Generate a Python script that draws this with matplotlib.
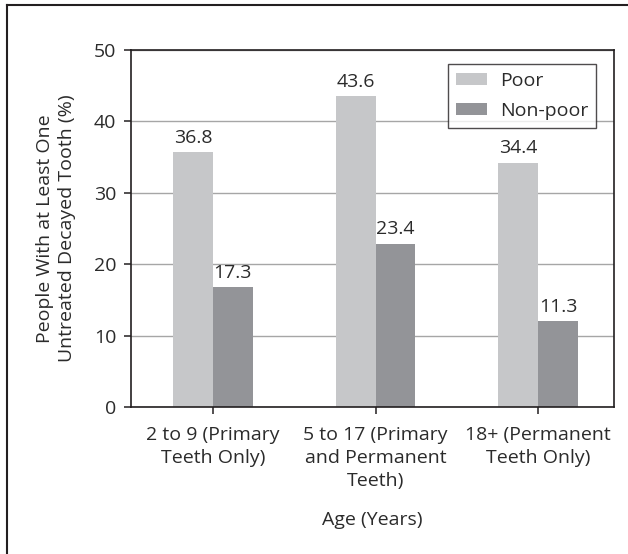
import numpy as np
import matplotlib
matplotlib.use('Agg')
import matplotlib.pyplot as plt
from matplotlib.lines import Line2D

plt.rcParams['font.family'] = ['Open Sans', 'DejaVu Sans']

# data (bar heights as drawn, labels as printed)
groups = ['2 to 9 (Primary\nTeeth Only)',
          '5 to 17 (Primary\nand Permanent\nTeeth)',
          '18+ (Permanent\nTeeth Only)']
poor = [35.7, 43.5, 34.2]
nonpoor = [16.8, 22.9, 12.0]
poor_labels = ['36.8', '43.6', '34.4']
nonpoor_labels = ['17.3', '23.4', '11.3']

txt = '#2b2b2b'
fs = 14

fig = plt.figure(figsize=(6.28, 5.54), dpi=100)
ax = fig.add_axes([0.2086, 0.2653, 0.7691, 0.6444])

x = np.arange(len(groups))
w = 0.245
b1 = ax.bar(x - w/2, poor, w, color='#c6c7c9', label='Poor', zorder=2)
b2 = ax.bar(x + w/2, nonpoor, w, color='#939498', label='Non-poor', zorder=2)

for bars, labs in [(b1, poor_labels), (b2, nonpoor_labels)]:
    for r, s in zip(bars, labs):
        ax.annotate(s, (r.get_x() + r.get_width()/2, r.get_height()),
                    xytext=(0, 4), textcoords='offset points',
                    ha='center', va='bottom', fontsize=fs, color=txt)

ax.set_xlim(-0.503, 2.466)
ax.set_ylim(0, 50)
ax.set_yticks([0, 10, 20, 30, 40, 50])
ax.set_xticks(x)
ax.set_xticklabels(groups, linespacing=1.36)
ax.yaxis.grid(True, color='#a6a6a6', linewidth=1.0, zorder=0)
ax.set_axisbelow(True)

for sp in ax.spines.values():
    sp.set_color('#231f20')
    sp.set_linewidth(1.2)

ax.tick_params(axis='both', direction='out', length=5, width=1.1,
               color='#231f20', labelsize=fs, labelcolor=txt, pad=5.5)
ax.tick_params(axis='x', pad=8.5)

ax.set_ylabel('People With at Least One\nUntreated Decayed Tooth (%)',
              fontsize=fs, color=txt, labelpad=13, linespacing=1.3)
ax.set_xlabel('Age (Years)', fontsize=fs, color=txt, labelpad=15)

leg = ax.legend(loc='upper right', bbox_to_anchor=(0.963, 0.96),
                fontsize=fs, frameon=True, fancybox=False,
                handlelength=1.6, handleheight=0.55, handletextpad=0.65,
                labelspacing=0.6, borderpad=0.4, borderaxespad=0)
leg.get_frame().set_edgecolor('#231f20')
leg.get_frame().set_linewidth(1.0)
for t in leg.get_texts():
    t.set_color(txt)

# outer frame (only left and top edges are visible in the crop)
fig.add_artist(Line2D([7/628, 7/628], [0, 1 - 5/554], transform=fig.transFigure,
                      color='#231f20', linewidth=1.5))
fig.add_artist(Line2D([7/628, 1], [1 - 5/554, 1 - 5/554], transform=fig.transFigure,
                      color='#231f20', linewidth=1.5))

fig.savefig('out.png', dpi=100)
